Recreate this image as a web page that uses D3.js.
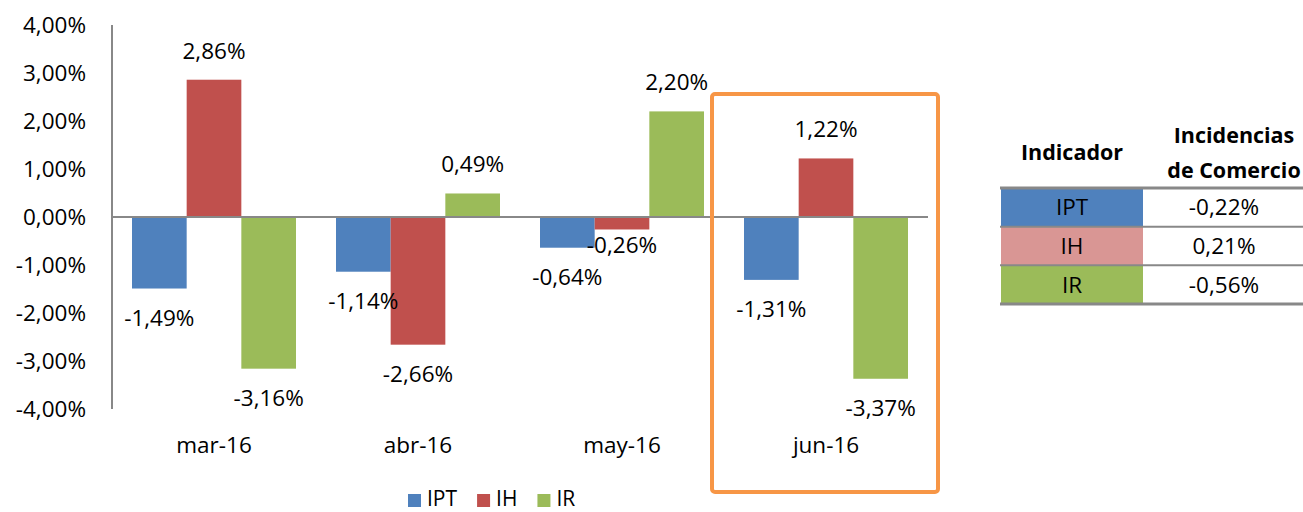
<!DOCTYPE html>
<html>
<head>
<meta charset="utf-8">
<title>Incidencias</title>
<script src="https://cdnjs.cloudflare.com/ajax/libs/d3/7.8.5/d3.min.js"></script>
<style>
  body { margin: 0; background: #fff; }
  svg { font-family: "Open Sans", sans-serif; }
</style>
</head>
<body>
<svg id="chart" width="1303" height="512"></svg>
<script>
// data
const months = ['mar-16', 'abr-16', 'may-16', 'jun-16'];
const series = ['IPT', 'IH', 'IR'];
const ipt = [-1.49, -1.14, -0.64, -1.31];
const ih = [2.86, -2.66, -0.26, 1.22];
const ir = [-3.16, 0.49, 2.20, -3.37];
const yTicks = [4, 3, 2, 1, 0, -1, -2, -3, -4];
const tableHead = ['Indicador', 'Incidencias', 'de Comercio'];
const tableNames = ['IPT', 'IH', 'IR'];
const tableValues = [-0.22, 0.21, -0.56];

const colors = { IPT: '#4F81BD', IH: '#C0504D', IR: '#9BBB59' };
const tableColors = { IPT: '#4F81BD', IH: '#D99694', IR: '#9BBB59' };

const fmt = v => d3.format('.2f')(v).replace('.', ',').replace('−', '-') + '%';

const svg = d3.select('#chart');
const fs = 22.5;

const x0 = d3.scaleBand().domain(months).range([112, 928]);
const x1 = d3.scaleBand().domain(series).range([20, 184]);
const y = d3.scaleLinear().domain([-4, 4]).range([409, 25]);

const rows = months.map((m, i) => ({ month: m, values: [
  { key: 'IPT', v: ipt[i] }, { key: 'IH', v: ih[i] }, { key: 'IR', v: ir[i] }
]}));

// y tick labels
svg.append('g').selectAll('text').data(yTicks).join('text')
  .attr('x', 86).attr('y', d => y(d) + 8)
  .attr('text-anchor', 'end').attr('font-size', fs).attr('fill', '#000')
  .text(d => fmt(d));

// bars
const groups = svg.append('g').selectAll('g').data(rows).join('g')
  .attr('transform', d => `translate(${x0(d.month)},0)`);

groups.selectAll('rect').data(d => d.values).join('rect')
  .attr('x', d => x1(d.key))
  .attr('width', x1.bandwidth())
  .attr('y', d => y(Math.max(0, d.v)))
  .attr('height', d => Math.abs(y(d.v) - y(0)))
  .attr('fill', d => colors[d.key]);

// small negative bars get their label tucked closer so neighbours don't collide
groups.selectAll('text').data(d => d.values).join('text')
  .attr('x', d => x1(d.key) + x1.bandwidth() / 2)
  .attr('y', d => d.v >= 0 ? y(d.v) - 21 : y(d.v) + (d.v > -0.5 ? 24 : 37))
  .attr('text-anchor', 'middle').attr('font-size', fs)
  .text(d => fmt(d.v));

// axis lines
svg.append('line').attr('x1', 112).attr('x2', 928).attr('y1', y(0)).attr('y2', y(0))
  .attr('stroke', '#888').attr('stroke-width', 2);
svg.append('line').attr('x1', 112).attr('x2', 112).attr('y1', y(4)).attr('y2', y(-4))
  .attr('stroke', '#888').attr('stroke-width', 2);

// category labels
svg.append('g').selectAll('text').data(months).join('text')
  .attr('x', d => x0(d) + x0.bandwidth() / 2).attr('y', 453)
  .attr('text-anchor', 'middle').attr('font-size', fs)
  .text(d => d);

// highlight box around jun-16
svg.append('rect')
  .attr('x', x0('jun-16') - 12).attr('y', 94)
  .attr('width', 226).attr('height', 398)
  .attr('rx', 3)
  .attr('fill', 'none').attr('stroke', '#F79646').attr('stroke-width', 4);

// legend
const legend = svg.append('g');
let lx = 408;
series.forEach(s => {
  legend.append('rect').attr('x', lx).attr('y', 494).attr('width', 13).attr('height', 13)
    .attr('fill', colors[s]);
  const t = legend.append('text').attr('x', lx + 19).attr('y', 506)
    .attr('font-size', 21).text(s);
  lx += 19 + t.node().getComputedTextLength() + 20;
});

// table
const tb = svg.append('g');
tb.append('text').attr('x', 1072).attr('y', 160).attr('text-anchor', 'middle')
  .attr('font-size', 21.5).attr('font-weight', 'bold').text(tableHead[0]);
tb.append('text').attr('x', 1234).attr('y', 143).attr('text-anchor', 'middle')
  .attr('font-size', 21.5).attr('font-weight', 'bold').text(tableHead[1]);
tb.append('text').attr('x', 1234).attr('y', 178).attr('text-anchor', 'middle')
  .attr('font-size', 21.5).attr('font-weight', 'bold').text(tableHead[2]);

const rowY = d3.scaleBand().domain(tableNames).range([188, 304]);
tb.selectAll('rect.cell').data(tableNames).join('rect').attr('class', 'cell')
  .attr('x', 1001).attr('width', 142)
  .attr('y', d => rowY(d)).attr('height', rowY.bandwidth())
  .attr('fill', d => tableColors[d]);
tb.selectAll('text.name').data(tableNames).join('text').attr('class', 'name')
  .attr('x', 1072).attr('y', d => rowY(d) + rowY.bandwidth() / 2 + 8)
  .attr('text-anchor', 'middle').attr('font-size', fs).text(d => d);
tb.selectAll('text.val').data(tableValues).join('text').attr('class', 'val')
  .attr('x', 1224).attr('y', (d, i) => rowY(tableNames[i]) + rowY.bandwidth() / 2 + 8)
  .attr('text-anchor', 'middle').attr('font-size', fs).text(d => fmt(d));
tb.selectAll('line').data([188, ...tableNames.map(n => rowY(n) + rowY.bandwidth())]).join('line')
  .attr('x1', 1000).attr('x2', 1303).attr('y1', d => d).attr('y2', d => d)
  .attr('stroke', '#888').attr('stroke-width', (d, i) => i === 0 || i === 3 ? 3 : 2);
</script>
</body>
</html>
